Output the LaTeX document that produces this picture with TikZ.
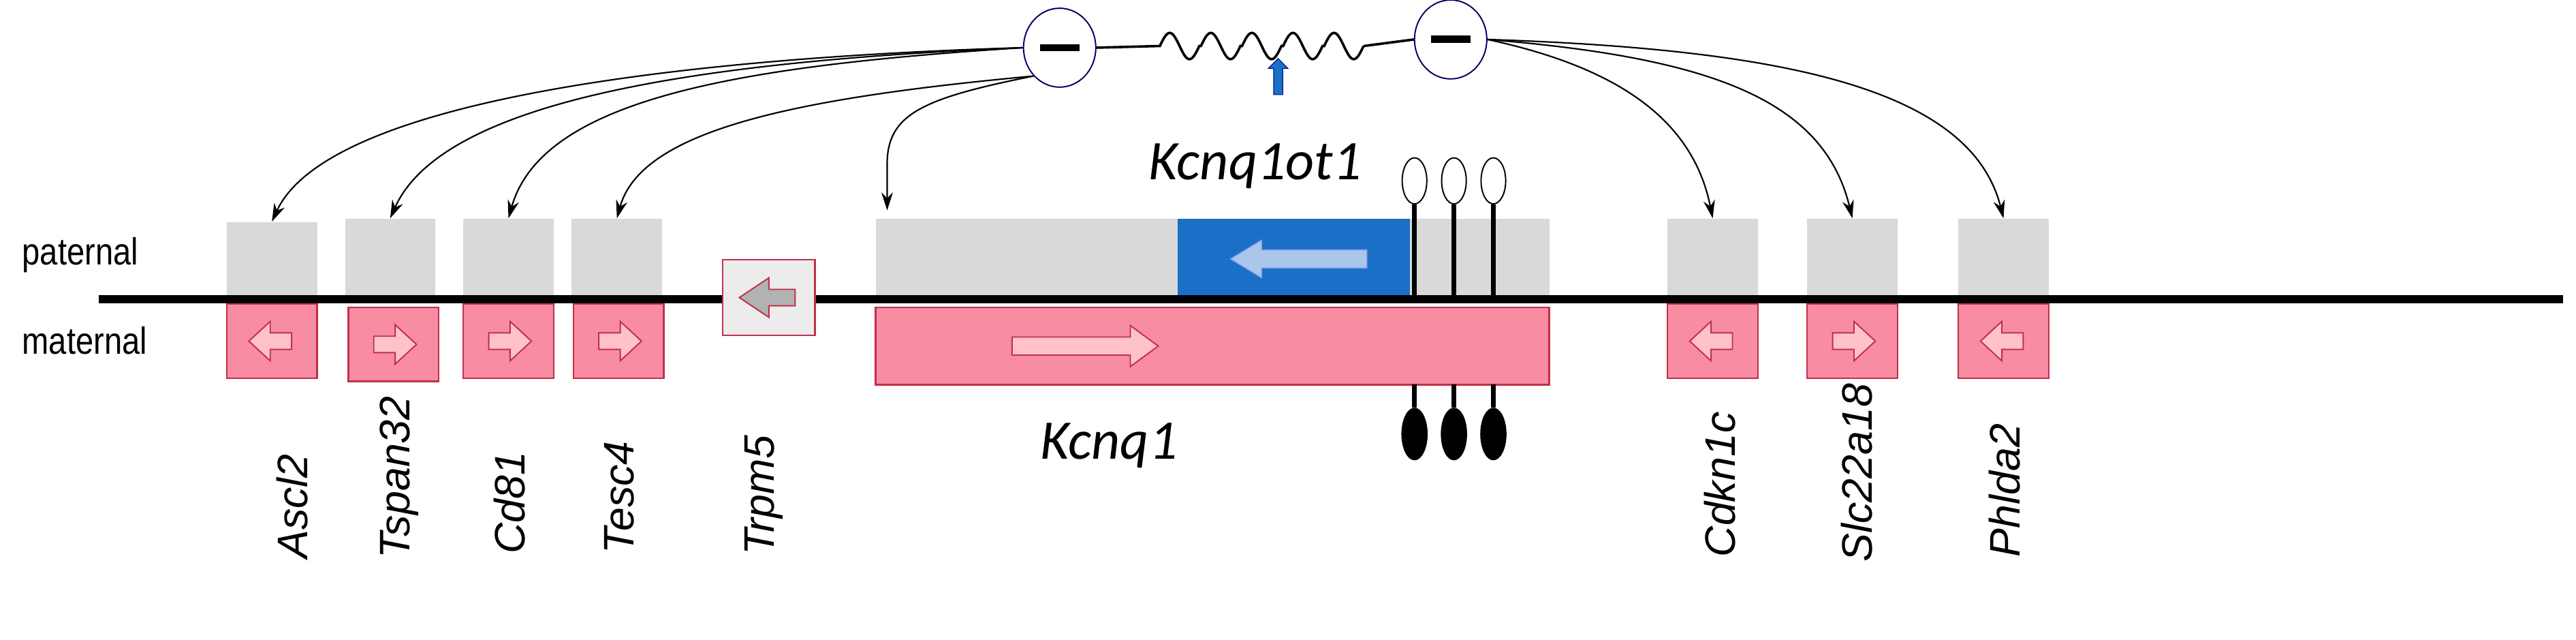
\documentclass[tikz,border=0pt]{standalone}
\usepackage{fontspec}
\usetikzlibrary{arrows.meta,shapes.geometric,shapes.arrows}
\setmainfont{Liberation Sans}
\newfontfamily\calfnt{Carlito}
\newfontfamily\narrowfnt{Liberation Sans}[FakeStretch=0.85]
\definecolor{pk}{HTML}{F88CA2}
\definecolor{pkd}{HTML}{C0304A}
\definecolor{pkl}{HTML}{FFC2CA}
\definecolor{gr}{HTML}{D9D9D9}
\definecolor{bl}{HTML}{1A70C6}
\definecolor{bll}{HTML}{AAC6EA}
\begin{document}
\begin{tikzpicture}[x=1pt,y=-1pt,
  gbox/.style={fill=gr,draw=none},
  pbox/.style={fill=pk,draw=pkd,line width=1pt},
  conn/.style={-{Stealth[length=11pt,width=7pt]},line width=0.9pt},
  gene/.style={rotate=90,anchor=west,font=\fontsize{26}{26}\selectfont\itshape,inner sep=0},
  pics/barr/.style={code={\draw[fill=pkl,draw=pkd,line width=0.8pt] (-12,-5)--(1,-5)--(1,-12)--(14,0)--(1,12)--(1,5)--(-12,5)--cycle;}}]
\useasboundingbox (0,0) rectangle (1568,389.3);
% paternal boxes
\node[gbox,minimum width=55pt,minimum height=45pt] (pA) at (165.5,157.5) {};
\node[gbox,minimum width=55pt,minimum height=47pt] (pT) at (237.5,156.5) {};
\node[gbox,minimum width=55pt,minimum height=47pt] (pC) at (309.5,156.5) {};
\node[gbox,minimum width=55pt,minimum height=47pt] (pE) at (375.5,156.5) {};
\node[gbox,minimum width=410pt,minimum height=47pt] (pK) at (738,156.5) {};
\node[gbox,minimum width=55pt,minimum height=47pt] (pD) at (1042.5,156.5) {};
\node[gbox,minimum width=55pt,minimum height=47pt] (pS) at (1127.5,156.5) {};
\node[gbox,minimum width=55pt,minimum height=47pt] (pP) at (1219.5,156.5) {};
% blue box
\node[fill=bl,minimum width=141pt,minimum height=48pt,inner sep=0] (blue) at (787.5,157) {};
\draw[fill=bll,draw=bll!80!blue,line width=0.6pt] (832,152)--(768,152)--(768,146)--(749,157.5)--(768,169)--(768,163)--(832,163)--cycle;
% main line
\draw[line width=5pt] (60,182) -- (1560,182);
% maternal boxes
\node[pbox,minimum width=55pt,minimum height=45pt] (mA) at (165.5,207.5) {};
\node[pbox,minimum width=55pt,minimum height=45pt] (mT) at (239.5,209.5) {};
\node[pbox,minimum width=55pt,minimum height=45pt] (mC) at (309.5,207.5) {};
\node[pbox,minimum width=55pt,minimum height=45pt] (mE) at (376.5,207.5) {};
\node[pbox,minimum width=410pt,minimum height=47pt] (mK) at (738,210.5) {};
\node[pbox,minimum width=55pt,minimum height=45pt] (mD) at (1042.5,207.5) {};
\node[pbox,minimum width=55pt,minimum height=45pt] (mS) at (1127.5,207.5) {};
\node[pbox,minimum width=55pt,minimum height=45pt] (mP) at (1219.5,207.5) {};
\pic[xscale=-1] at (mA) {barr};
\pic at (mT) {barr};
\pic at (mC) {barr};
\pic at (mE) {barr};
\pic[xscale=-1] at (mD) {barr};
\pic at (mS) {barr};
\pic[xscale=-1] at (mP) {barr};
\draw[fill=pkl,draw=pkd,line width=0.8pt] (616,205)--(688,205)--(688,198)--(705,210.5)--(688,223)--(688,216)--(616,216)--cycle;
% Trpm5
\node[fill=gray!15,draw=pkd,line width=1pt,minimum width=56pt,minimum height=46pt] (tr) at (468,181) {};
\draw[fill=gray!60,draw=pkd,line width=0.8pt] (484,176)--(468,176)--(468,169)--(450,181)--(468,193)--(468,186)--(484,186)--cycle;
% lollipops
\foreach \x/\n in {861/a,885/b,909/c}{
  \node[ellipse,draw,line width=0.8pt,fill=white,minimum width=15pt,minimum height=28pt,inner sep=0] (o\n) at (\x,110) {};
  \draw[line width=3pt] (o\n.south) -- (\x,182);
  \node[ellipse,fill=black,minimum width=16pt,minimum height=32pt,inner sep=0] (f\n) at (\x,264) {};
  \draw[line width=3pt] (\x,234) -- (f\n.north);
}
% top
\node[ellipse,draw=blue!40!black,line width=0.8pt,fill=white,minimum width=44pt,minimum height=48pt,inner sep=0] (cL) at (645,29) {};
\node[ellipse,draw=blue!40!black,line width=0.8pt,fill=white,minimum width=44pt,minimum height=48pt,inner sep=0] (cR) at (883,24) {};
\draw[line width=4.5pt] (633,29)--(657,29);
\draw[line width=4.5pt] (871,24)--(895,24);
\coordinate (w1) at (705,28);
\coordinate (w2) at (830,28);
\draw[line width=1.5pt] (cL.east) -- (w1);
\draw[line width=1.5pt] (w2) -- (cR.west);
\draw[line width=1.5pt] (w1) \foreach \i in {0,...,4}{ -- ++(1,0) sin ++(6,-8) cos ++(6,8) sin ++(6,8) cos ++(6,-8)};
\node[single arrow,fill=bl,draw=blue!50!black,line width=0.4pt,rotate=90,minimum height=22pt,minimum width=12pt,single arrow head extend=2.5pt,inner sep=2pt] (up) at (778,48) {};
% arrows
\draw[conn] (cL.west) .. controls (420,35) and (200,60) .. (pA.north);
\draw[conn] (cL.west) .. controls (430,37) and (270,60) .. (pT.north);
\draw[conn] (cL.west) .. controls (450,40) and (330,60) .. (pC.north);
\draw[conn] (cL.south west) .. controls (480,60) and (390,80) .. (pE.north);
\draw[conn] (cL.south west) .. controls (560,60) and (540,70) .. (540,100) -- (540,128);
\draw[conn] (cR.east) .. controls (980,40) and (1030,70) .. (pD.north);
\draw[conn] (cR.east) .. controls (1040,35) and (1110,60) .. (pS.north);
\draw[conn] (cR.east) .. controls (1090,30) and (1200,55) .. (pP.north);
% labels
\node[font=\narrowfnt\fontsize{23}{23}\selectfont,anchor=west] (lp) at (10,155) {paternal};
\node[font=\narrowfnt\fontsize{23}{23}\selectfont,anchor=west] (lm) at (10,207) {maternal};
\node[font=\calfnt\fontsize{34}{34}\selectfont\itshape] (lk1) at (764,101) {Kcnq1ot1};
\node[font=\calfnt\fontsize{34}{34}\selectfont\itshape] (lk) at (675,271) {Kcnq1};
\node[gene] at (178,340) {Ascl2};
\node[gene] at (243,340) {Tspan32};
\node[gene] at (310,337) {Cd81};
\node[gene] at (377,337) {Tesc4};
\node[gene] at (465,338) {Trpm5};
\node[gene] at (1047,339) {Cdkn1c};
\node[gene] at (1130,342) {Slc22a18};
\node[gene] at (1220,339) {Phlda2};
\end{tikzpicture}
\end{document}
